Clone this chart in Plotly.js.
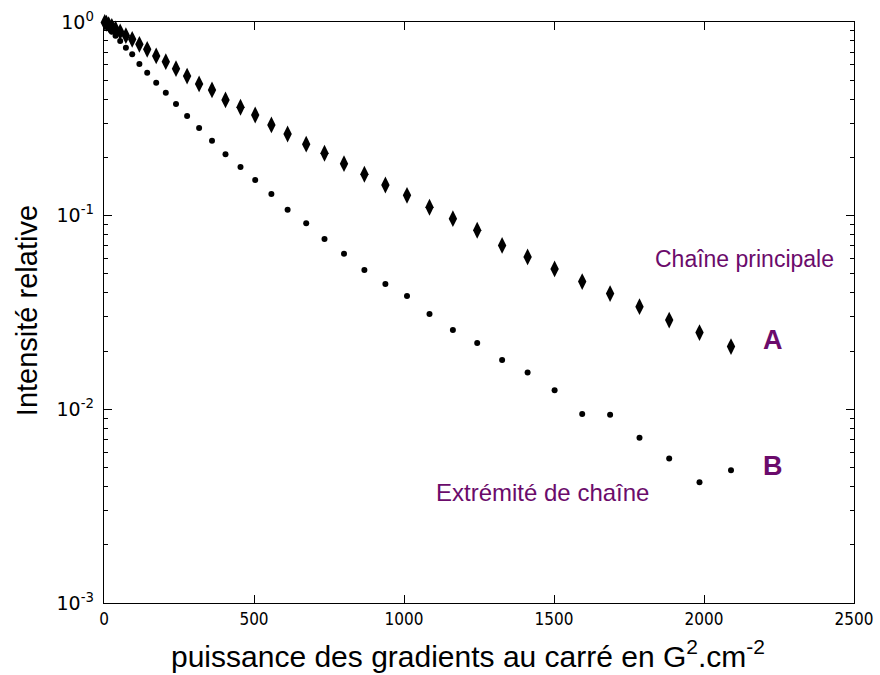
<!DOCTYPE html>
<html>
<head>
<meta charset="utf-8">
<script src="https://cdn.plot.ly/plotly-3.0.1.min.js"></script>
<style>html,body{margin:0;padding:0;background:#fff;}</style>
</head>
<body>
<div id="chart" style="width:880px;height:675px;"></div>
<script>
// Gradient power squared (G^2.cm^-2)
const gradientSq = [2.5, 8, 15.5, 26, 38.5, 54, 73, 94, 118, 144, 174, 206, 240, 277, 317, 360, 405, 455, 504, 558, 612, 674, 735, 800, 868, 938, 1010, 1085, 1163, 1244, 1327, 1412, 1502, 1594, 1687, 1785, 1884, 1985, 2090];
// A : Chaîne principale
const intensityA = [0.995, 0.985, 0.97, 0.95, 0.92, 0.89, 0.85, 0.814, 0.767, 0.723, 0.668, 0.624, 0.574, 0.526, 0.479, 0.446, 0.396, 0.363, 0.331, 0.294, 0.264, 0.234, 0.210, 0.1856, 0.1636, 0.144, 0.1274, 0.1105, 0.0965, 0.0841, 0.0702, 0.0612, 0.0531, 0.0457, 0.0396, 0.0339, 0.0289, 0.0249, 0.0211];
// B : Extrémité de chaîne
const intensityB = [0.99, 0.965, 0.93, 0.89, 0.85, 0.798, 0.737, 0.681, 0.607, 0.547, 0.486, 0.431, 0.377, 0.327, 0.2836, 0.2438, 0.2075, 0.1784, 0.1528, 0.1294, 0.1074, 0.0913, 0.0758, 0.0636, 0.0524, 0.0444, 0.0385, 0.0311, 0.0257, 0.0220, 0.0180, 0.0155, 0.01255, 0.00947, 0.00939, 0.00714, 0.00557, 0.00420, 0.00485];

const yTickVals = [1, 0.1, 0.01, 0.001];
const yTickText = ['10<sup>0</sup>', '10<sup>-1</sup>', '10<sup>-2</sup>', '10<sup>-3</sup>'];
const xTickVals = [0, 500, 1000, 1500, 2000, 2500];

const purple = '#6b0b6b';

const traces = [
  {x: gradientSq, y: intensityA, type: 'scatter', mode: 'markers', name: 'A',
   marker: {symbol: 'diamond-tall', size: 12, color: '#000'}, cliponaxis: false},
  {x: gradientSq, y: intensityB, type: 'scatter', mode: 'markers', name: 'B',
   marker: {symbol: 'circle', size: 6, color: '#000'}, cliponaxis: false}
];

const layout = {
  width: 880, height: 675,
  margin: {l: 104, r: 26, t: 22, b: 72},
  paper_bgcolor: '#fff', plot_bgcolor: '#fff',
  showlegend: false,
  font: {family: 'DejaVu Sans', color: '#000'},
  xaxis: {
    range: [0, 2500], tickvals: xTickVals, ticks: 'inside', ticklen: 8, tickwidth: 1,
    tickcolor: '#000', showline: true, linecolor: '#000', linewidth: 1.3, mirror: 'ticks',
    showgrid: false, zeroline: false,
    tickfont: {family: 'DejaVu Sans Condensed, DejaVu Sans', size: 17}
  },
  yaxis: {
    type: 'log', range: [-3, 0], tickvals: yTickVals, ticktext: yTickText,
    ticks: 'inside', ticklen: 8, tickwidth: 1, tickcolor: '#000',
    showline: true, linecolor: '#000', linewidth: 1.3, mirror: 'ticks',
    showgrid: false, zeroline: false, ticklabelstandoff: 5,
    minor: {ticks: 'inside', ticklen: 4, tickcolor: '#000', dtick: 'D1', showgrid: false},
    tickfont: {family: 'DejaVu Sans', size: 19}
  },
  annotations: [
    {x: 0.485, y: -0.088, xref: 'paper', yref: 'paper', xanchor: 'center', yanchor: 'middle',
     text: 'puissance des gradients au carré en G<sup>2</sup>.cm<sup>-2</sup>', showarrow: false,
     font: {family: 'Liberation Sans', size: 30, color: '#000'}},
    {x: -0.1027, y: 0.504, xref: 'paper', yref: 'paper', xanchor: 'center', yanchor: 'middle',
     text: 'Intensité relative', textangle: -90, showarrow: false,
     font: {family: 'Liberation Sans', size: 29, color: '#000'}},
    {x: 2134, y: Math.log10(0.06), xref: 'x', yref: 'y', text: 'Chaîne principale', showarrow: false,
     xanchor: 'center', font: {family: 'Liberation Sans', size: 23, color: purple}},
    {x: 2230, y: Math.log10(0.0229), xref: 'x', yref: 'y', text: '<b>A</b>', showarrow: false,
     xanchor: 'center', font: {family: 'Liberation Sans', size: 27, color: purple}},
    {x: 2230, y: Math.log10(0.0051), xref: 'x', yref: 'y', text: '<b>B</b>', showarrow: false,
     xanchor: 'center', font: {family: 'Liberation Sans', size: 27, color: purple}},
    {x: 1461, y: Math.log10(0.0037), xref: 'x', yref: 'y', text: 'Extrémité de chaîne', showarrow: false,
     xanchor: 'center', font: {family: 'Liberation Sans', size: 24, color: purple}}
  ]
};

Plotly.newPlot('chart', traces, layout, {staticPlot: true, displayModeBar: false});
</script>
</body>
</html>
